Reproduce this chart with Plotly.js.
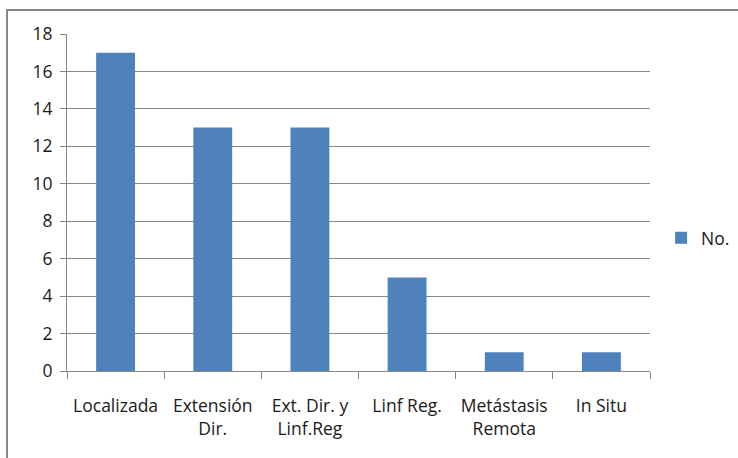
<!DOCTYPE html>
<html>
<head>
<meta charset="utf-8">
<script src="https://cdn.plot.ly/plotly-3.0.1.min.js"></script>
<style>
  html, body { margin: 0; padding: 0; background: #fff; }
  #wrap { position: relative; width: 738px; height: 458px; overflow: hidden; }
  #frame { position: absolute; left: 6px; top: 9px; width: 800px; height: 500px;
           border: 2px solid #878787; box-sizing: border-box; pointer-events: none; }
  #chart { position: absolute; left: 0; top: 0; width: 738px; height: 458px; }
</style>
</head>
<body>
<div id="wrap">
  <div id="chart"></div>
  <div id="frame"></div>
</div>
<script>
// Estadio de la enfermedad y número de casos
const categories = ["Localizada", "Extensión<br>Dir.", "Ext. Dir. y<br>Linf.Reg", "Linf Reg.", "Metástasis<br>Remota", "In Situ"];
const counts = [17, 13, 13, 5, 1, 1];
const seriesName = "No.";
const yTicks = [0, 2, 4, 6, 8, 10, 12, 14, 16, 18];

const font = { family: "'Open Sans', sans-serif", size: 17.5, color: "#1a1a1a" };

Plotly.newPlot("chart", [{
  type: "bar",
  x: categories,
  y: counts,
  name: seriesName,
  marker: { color: "#4F81BD", line: { width: 0 } },
  showlegend: true,
  hoverinfo: "x+y"
}], {
  width: 738,
  height: 458,
  margin: { l: 67, r: 88, t: 34, b: 87, autoexpand: false },
  paper_bgcolor: "#fff",
  plot_bgcolor: "#fff",
  font: font,
  bargap: 0.6,
  showlegend: true,
  xaxis: {
    type: "category",
    showline: true, linecolor: "#878787", linewidth: 1,
    ticks: "outside", tickson: "boundaries", ticklen: 7, tickcolor: "#878787",
    showgrid: false, zeroline: false,
    ticklabelstandoff: 19,
    tickfont: font
  },
  yaxis: {
    range: [0, 18],
    tickvals: yTicks,
    showline: true, linecolor: "#878787", linewidth: 1,
    ticks: "outside", ticklen: 6, tickcolor: "#878787",
    showgrid: true, gridcolor: "#878787", gridwidth: 1,
    zeroline: false,
    ticklabelstandoff: 4,
    tickfont: font
  },
  legend: {
    x: 1.019, xanchor: "left",
    y: 0.395, yanchor: "middle",
    font: font,
    bgcolor: "rgba(0,0,0,0)",
    itemwidth: 30
  }
}, { displayModeBar: false, staticPlot: true });
</script>
</body>
</html>
